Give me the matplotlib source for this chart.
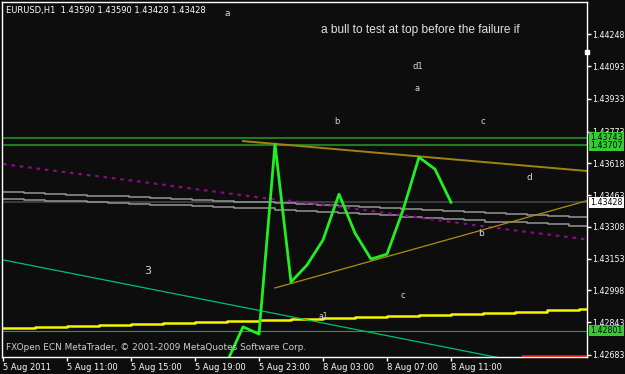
import numpy as np
import matplotlib.pyplot as plt
import matplotlib.transforms as mtransforms

# --- data (bar index 0 = 5 Aug 07:00, H1 bars) ---
tick_pos = [0, 4, 8, 12, 16, 20, 24, 28]
tick_labels = ['5 Aug 2011', '5 Aug 11:00', '5 Aug 15:00', '5 Aug 19:00',
               '5 Aug 23:00', '8 Aug 03:00', '8 Aug 07:00', '8 Aug 11:00']
price_ticks = [1.44248, 1.44093, 1.43933, 1.43773, 1.43618, 1.43463,
               1.43308, 1.43153, 1.42998, 1.42843, 1.42683]

close_idx = list(range(14, 29))
close = [1.42649, 1.42820, 1.42785, 1.43712, 1.43039, 1.43122, 1.43244, 1.43468,
         1.43278, 1.43151, 1.43175, 1.43390, 1.43648, 1.43590, 1.43428]

# slow stepped average (yellow), one value every 2 bars
yellow_idx = list(range(0, 40, 2))
yellow = [1.42815, 1.42820, 1.42824, 1.42829, 1.42834, 1.42839, 1.42844, 1.42849,
          1.42854, 1.42859, 1.42863, 1.42868, 1.42873, 1.42878, 1.42883, 1.42888,
          1.42895, 1.42900, 1.42905, 1.42905]

# two grey stepped averages
grey_upper = [1.43480, 1.43476, 1.43471, 1.43466, 1.43461, 1.43457, 1.43454, 1.43449,
              1.43444, 1.43440, 1.43436, 1.43432, 1.43428, 1.43424, 1.43420, 1.43415,
              1.43410, 1.43405, 1.43400, 1.43396, 1.43391, 1.43386, 1.43381, 1.43376,
              1.43371, 1.43366, 1.43360, 1.43354, 1.43348, 1.43342]
grey_lower = [1.43444, 1.43440, 1.43436, 1.43433, 1.43429, 1.43425, 1.43421, 1.43417,
              1.43414, 1.43410, 1.43406, 1.43402, 1.43399, 1.43393, 1.43387, 1.43381,
              1.43376, 1.43370, 1.43364, 1.43358, 1.43352, 1.43346, 1.43340, 1.43334,
              1.43330, 1.43326, 1.43320, 1.43314, 1.43308, 1.43303]
grey_step = 1.31  # bars per step

# magenta dotted average
magenta_idx = [0, 4, 8, 12, 16, 20, 24, 28, 32, 36, 37]
magenta = [1.43615, 1.43574, 1.43535, 1.43493, 1.43452, 1.43417, 1.43376,
           1.43332, 1.43291, 1.43252, 1.43242]

# trend lines (bar index, price) pairs
teal_line = ([0, 32], [1.43147, 1.42654])
gold_upper = ([15, 36.5], [1.43727, 1.43581])
gold_lower = ([17, 36.5], [1.43010, 1.43436])
red_seg = ([32.5, 36.5], [1.42678, 1.42678])

green_levels = [1.43743, 1.43707]
green_low = 1.42801
bid = 1.43428

notes = [('a', 14.0, 1.44352, 6.5), ('d1', 25.9, 1.44093, 6), ('a', 25.9, 1.43986, 6),
         ('b', 20.9, 1.43825, 6), ('c', 30.0, 1.43825, 6), ('d', 32.9, 1.43547, 6.5),
         ('b', 29.9, 1.43278, 6.5), ('3', 9.06, 1.43093, 8), ('c', 25.0, 1.42971, 6),
         ('a1', 20.0, 1.42873, 5.5)]
comment = 'a bull to test at top before the failure if'

bg = '#0d0d0d'
fig = plt.figure(figsize=(6.25, 3.74), dpi=100, facecolor=bg)
ax = fig.add_axes([2/625, 1-357/374, 585/625, 355/374], facecolor=bg)
ax.set_xlim(-0.0625, 36.5)
ax.set_ylim(1.42673, 1.44406)

ax.axhline(green_levels[0], color='#1f7a1f', lw=1.5)
ax.axhline(green_levels[1], color='#1f7a1f', lw=1.5)
ax.axhline(green_low, color='#2aa02a', lw=0.8)
ax.axhline(bid, color='#3c4650', lw=1.2)

gx = np.arange(len(grey_upper)) * grey_step
ax.step(gx, grey_upper, where='post', color='#969696', lw=1.1)
ax.step(gx, grey_lower, where='post', color='#969696', lw=1.1)
ax.plot(magenta_idx, magenta, color='#8a0a8a', lw=1.6, ls=(0, (1.6, 2.2)))
ax.step(yellow_idx, yellow, where='post', color='#f5f500', lw=1.8)

ax.plot(*teal_line, color='#00c070', lw=0.9)
ax.plot(*gold_upper, color='#a08410', lw=1.4)
ax.plot(*gold_lower, color='#b08c10', lw=0.9)
ax.plot(*red_seg, color='#ff0000', lw=1.4)

ax.plot(close_idx, close, color='#22ee22', lw=2)

for s, x, y, fs in notes:
    ax.text(x, y, s, color='#d8d8d8', fontsize=fs, ha='center', va='center',
            family='DejaVu Sans')
ax.text(26.06, 1.44269, comment, color='#e0e0e0', fontsize=8.6, ha='center',
        va='center', family='Liberation Sans')

# axes, ticks
for sp in ax.spines.values():
    sp.set_color('white')
    sp.set_linewidth(1)
ax.yaxis.tick_right()
ax.set_yticks(price_ticks)
ax.set_yticklabels(['%.5f' % p for p in price_ticks])
ax.set_xticks(tick_pos)
ax.set_xticklabels(tick_labels, ha='left')
ax.tick_params(colors='white', labelsize=6, length=3, width=1, pad=1.5)
ax.tick_params(axis='y', labelsize=5.7, pad=1)
ax.tick_params(axis='x', pad=1)

# price tags on the right scale
trans = mtransforms.blended_transform_factory(ax.transAxes, ax.transData)
for p in green_levels + [green_low]:
    ax.text(1.006, p, '%.5f' % p, transform=trans, fontsize=5.7, color='black',
            va='center', ha='left',
            bbox=dict(boxstyle='square,pad=0.15', fc='#33cc33', ec='none'))
ax.text(1.006, bid, '%.5f' % bid, transform=trans, fontsize=5.7, color='black',
        va='center', ha='left',
        bbox=dict(boxstyle='square,pad=0.15', fc='white', ec='none'))
ax.plot([1.0], [1.44162], marker='s', ms=2.5, color='white', transform=trans,
        clip_on=False)

fig.text(6/625, 1-11/374, 'EURUSD,H1  1.43590 1.43590 1.43428 1.43428',
         color='white', fontsize=6, va='center', ha='left')
fig.text(6/625, 1-347/374,
         'FXOpen ECN MetaTrader, \u00a9 2001-2009 MetaQuotes Software Corp.',
         color='#d0d0d0', fontsize=6.4, va='center', ha='left')

fig.savefig('out.png', dpi=100, facecolor=bg)
